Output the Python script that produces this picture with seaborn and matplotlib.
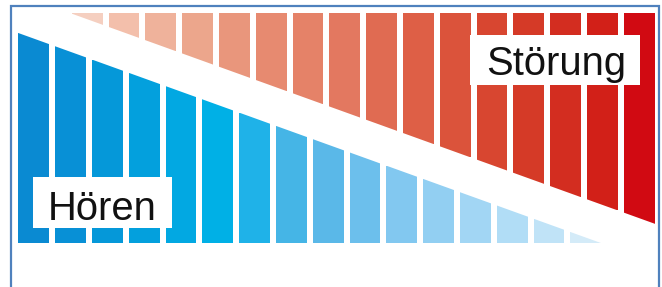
import numpy as np
import pandas as pd
import matplotlib
matplotlib.use("Agg")
import matplotlib.pyplot as plt
from matplotlib.patches import Polygon, Rectangle
import seaborn as sns

# ---- data ----
hoeren_values = [88.9, 83.1, 77.3, 71.6, 65.8, 60.0, 54.3, 48.5,
                 42.7, 37.0, 31.2, 25.4, 19.7, 13.9, 8.1, 2.4]
stoerung_values = [2.7, 8.5, 14.2, 20.0, 25.8, 31.5, 37.3, 43.1,
                   48.8, 54.6, 60.4, 66.1, 71.9, 77.7, 83.4, 89.2]
hoeren_colors = ["#0a8ad2", "#0890d6", "#0598d9", "#03a0dd", "#02a8e2", "#00b0e6",
                 "#1fb2e8", "#45b5e6", "#5ab8e8", "#6cbfec", "#82c8f0", "#92cff2",
                 "#a2d6f4", "#b1ddf6", "#c0e3f7", "#d4ebf8"]
stoerung_colors = ["#f5cfc0", "#f3bfab", "#efb29b", "#eca68c", "#e9967c", "#e78a70",
                   "#e58268", "#e37860", "#e06b52", "#de5f46", "#db533b", "#d84630",
                   "#d53a27", "#d32d20", "#d22018", "#d10a12"]
labels = ["Hören", "Störung"]

# ---- layout ----
W, H = 662, 287
PX = 36.8          # pixels per bar slot
X0 = 33.8          # pixel centre of first blue bar
YS = 2.3           # pixels per value unit
BLUE_BASE = 243    # pixel row of blue baseline
RED_TOP = 13       # pixel row of red top
RED_OFFSET = 1.451 # slot offset of red bars

sns.set_theme(style="white")
plt.rcParams['font.family'] = ['Liberation Sans', 'DejaVu Sans']

fig = plt.figure(figsize=(W / 100, H / 100), dpi=100)
fig.patch.set_facecolor("white")
ax = fig.add_axes([0, 0, 1, 1])
ax2 = ax.twinx()

n = len(hoeren_values)
df_h = pd.DataFrame({"pos": np.arange(n, dtype=float), "value": hoeren_values,
                     "bar": [f"h{i}" for i in range(n)]})
df_s = pd.DataFrame({"pos": np.arange(n, dtype=float) + RED_OFFSET, "value": stoerung_values,
                     "bar": [f"s{i}" for i in range(n)]})

sns.barplot(data=df_h, x="pos", y="value", hue="bar", palette=hoeren_colors,
            native_scale=True, width=0.842, dodge=False, legend=False,
            errorbar=None, saturation=1, linewidth=0, ax=ax)
sns.barplot(data=df_s, x="pos", y="value", hue="bar", palette=stoerung_colors,
            native_scale=True, width=0.842, dodge=False, legend=False,
            errorbar=None, saturation=1, linewidth=0, ax=ax2)

xlim = (-X0 / PX, (W - X0) / PX)
ax.set_xlim(*xlim)
ax2.set_xlim(*xlim)
ax.set_ylim(-(H - BLUE_BASE) / YS, BLUE_BASE / YS)
ax2.set_ylim((H - RED_TOP) / YS, -RED_TOP / YS)


def slant_bars(axis, pos, vals):
    b, a = np.polyfit(pos, vals, 1)
    xs = [xlim[0] - 5, xlim[1] + 5]
    poly = Polygon([[xs[0], a + b * xs[0]], [xs[1], a + b * xs[1]],
                    [xs[1], -1000], [xs[0], -1000]], closed=True,
                   transform=axis.transData)
    for p in axis.patches:
        x0 = p.get_x()
        x1 = x0 + p.get_width()
        p.set_height(max(a + b * x0, a + b * x1))
        p.set_clip_path(poly)


slant_bars(ax, df_h["pos"].values, df_h["value"].values)
slant_bars(ax2, df_s["pos"].values, df_s["value"].values)

for a_ in (ax, ax2):
    a_.set_axis_off()


def fx(px):
    return px / W


def fy(py):
    return 1 - py / H


# label boxes
for (bx0, by0, bx1, by1, tx, ty, txt) in [
        (33, 177, 172, 228, 102.5, 220, labels[0]),
        (470, 35, 640, 85, 556, 75, labels[1])]:
    fig.add_artist(Rectangle((fx(bx0), fy(by1)), fx(bx1) - fx(bx0), fy(by0) - fy(by1),
                             transform=fig.transFigure, facecolor="white",
                             edgecolor="none", zorder=5))
    fig.text(fx(tx), fy(ty), txt, ha="center", va="baseline", fontsize=28.8,
             color="#111111", zorder=6)

# frame
fig.add_artist(Rectangle((fx(11), -0.05), fx(659) - fx(11), fy(6) + 0.05,
                         transform=fig.transFigure, fill=False,
                         edgecolor="#4f81bd", linewidth=1.6, zorder=7))

fig.savefig("out.png", dpi=100, facecolor="white")
